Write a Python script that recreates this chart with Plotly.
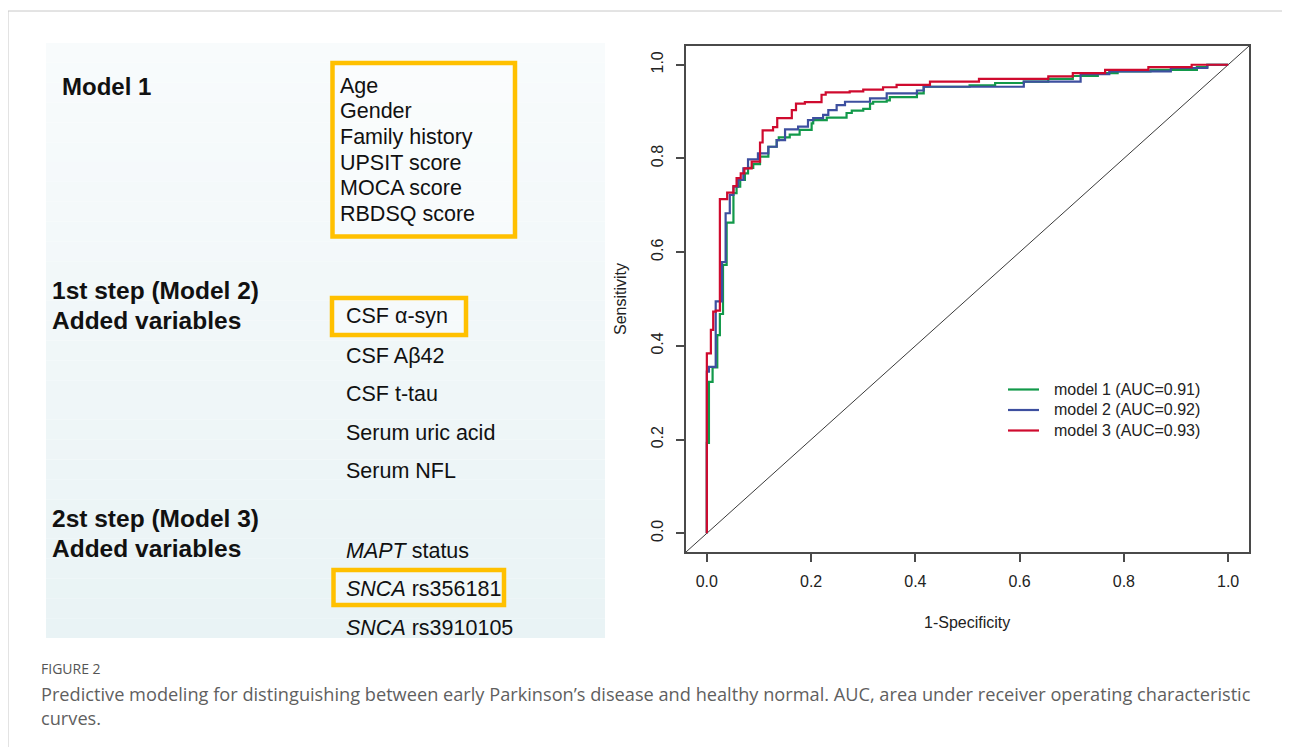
import plotly.graph_objects as go

# page is shown with an 8px body margin, so the figure is drawn 8px smaller and offset
OFF = 8
W, H = 1290 - OFF, 747 - OFF

# ---------------- data ----------------
model_names = ["model 1 (AUC=0.91)", "model 2 (AUC=0.92)", "model 3 (AUC=0.93)"]
model_colors = ["#12994a", "#3d4f9f", "#cf0a2e"]

# step points: at fpr x the curve jumps up to sensitivity y
m1_fpr = [0, 0, 0.004, 0.011, 0.020, 0.025, 0.031, 0.038, 0.051, 0.057, 0.064, 0.073, 0.079,
          0.089, 0.102, 0.118, 0.134, 0.138, 0.159, 0.178, 0.201, 0.204, 0.230, 0.268, 0.278,
          0.300, 0.313, 0.319, 0.345, 0.351, 0.403, 0.416, 0.504, 0.553, 0.608, 0.655, 0.702,
          0.750, 0.788, 0.851, 0.940, 0.960, 1.0]
m1_tpr = [0, 0.193, 0.323, 0.354, 0.423, 0.468, 0.573, 0.663, 0.726, 0.740, 0.754, 0.768, 0.780,
          0.788, 0.804, 0.825, 0.839, 0.845, 0.851, 0.861, 0.875, 0.882, 0.887, 0.897, 0.902,
          0.906, 0.917, 0.921, 0.924, 0.931, 0.939, 0.953, 0.956, 0.961, 0.964, 0.970, 0.976,
          0.982, 0.986, 0.989, 0.995, 1.0, 1.0]

m2_fpr = [0, 0, 0.004, 0.017, 0.029, 0.036, 0.044, 0.051, 0.060, 0.070, 0.079, 0.098, 0.118,
          0.134, 0.150, 0.175, 0.194, 0.204, 0.223, 0.233, 0.249, 0.265, 0.313, 0.345, 0.403,
          0.416, 0.608, 0.717, 0.772, 0.890, 0.960, 1.0]
m2_tpr = [0, 0.345, 0.355, 0.495, 0.579, 0.683, 0.722, 0.740, 0.754, 0.779, 0.798, 0.811, 0.825,
          0.839, 0.862, 0.868, 0.882, 0.886, 0.893, 0.903, 0.914, 0.921, 0.928, 0.939, 0.945,
          0.953, 0.964, 0.980, 0.986, 0.993, 1.0, 1.0]

m3_fpr = [0, 0, 0.0077, 0.0122, 0.0173, 0.025, 0.039, 0.051, 0.057, 0.065, 0.072, 0.086, 0.102,
          0.107, 0.127, 0.135, 0.163, 0.171, 0.188, 0.220, 0.228, 0.274, 0.300, 0.338, 0.364,
          0.428, 0.522, 0.655, 0.702, 0.764, 0.847, 0.930, 1.0]
m3_tpr = [0, 0.384, 0.434, 0.473, 0.475, 0.713, 0.727, 0.741, 0.758, 0.768, 0.779, 0.793, 0.834,
          0.860, 0.867, 0.886, 0.903, 0.917, 0.920, 0.936, 0.941, 0.943, 0.947, 0.952, 0.957,
          0.964, 0.970, 0.975, 0.982, 0.989, 0.995, 1.0, 1.0]

axis_ticks = [0.0, 0.2, 0.4, 0.6, 0.8, 1.0]
axis_ticktext = ["0.0", "0.2", "0.4", "0.6", "0.8", "1.0"]
axis_lim = [-0.04, 1.04]

model1_vars = ["Age", "Gender", "Family history", "UPSIT score", "MOCA score", "RBDSQ score"]
model2_vars = ["CSF α-syn", "CSF Aβ42", "CSF t-tau", "Serum uric acid", "Serum NFL"]
model3_vars = ["<i>MAPT</i> status", "<i>SNCA</i> rs356181", "<i>SNCA</i> rs3910105"]

caption_label = "FIGURE 2"
caption_lines = [
    "Predictive modeling for distinguishing between early Parkinson\u2019s disease and healthy normal. AUC, area under receiver operating characteristic",
    "curves.",
]

# ---------------- helpers (page pixel -> paper) ----------------
def px(x):
    return (x - OFF) / W

def py(y):
    return 1 - (y - OFF) / H

ARIAL = "Liberation Sans, Arial, sans-serif"
PAD = 2  # annotation inner padding

fig = go.Figure()

# ROC curves
for fpr, tpr, name, col in zip([m1_fpr, m2_fpr, m3_fpr], [m1_tpr, m2_tpr, m3_tpr],
                               model_names, model_colors):
    fig.add_trace(go.Scatter(x=fpr, y=tpr, mode="lines", name=name, showlegend=False,
                             line=dict(color=col, width=2.2, shape="hv")))

shapes = []
annotations = []

# diagonal reference line
shapes.append(dict(type="line", xref="x", yref="y", x0=axis_lim[0], y0=axis_lim[0],
                   x1=axis_lim[1], y1=axis_lim[1], line=dict(color="#3a3a3a", width=1), layer="below"))

# figure frame lines
shapes.append(dict(type="line", xref="paper", yref="paper", x0=px(8), y0=py(11), x1=1, y1=py(11),
                   line=dict(color="#c8c8c8", width=1)))
shapes.append(dict(type="line", xref="paper", yref="paper", x0=px(8), y0=py(11), x1=px(8), y1=0,
                   line=dict(color="#c8c8c8", width=1)))

# left panel gradient background
top, bot = 43, 638
n = 30
c0 = (248, 251, 252)
c1 = (233, 243, 245)
for i in range(n):
    t = i / (n - 1)
    c = tuple(round(a + (b - a) * t) for a, b in zip(c0, c1))
    y0 = top + (bot - top) * i / n
    y1 = top + (bot - top) * (i + 1) / n
    shapes.append(dict(type="rect", xref="paper", yref="paper", x0=px(46), x1=px(605),
                       y0=py(y1), y1=py(y0), fillcolor="rgb(%d,%d,%d)" % c,
                       line=dict(width=0), layer="below"))

# orange boxes
ORANGE = "#FFC000"
for (x0, y0, x1, y1) in [(332.5, 63, 515, 236.5), (332, 298, 466, 335), (333.5, 570, 504, 605)]:
    shapes.append(dict(type="rect", xref="paper", yref="paper", x0=px(x0), x1=px(x1),
                       y0=py(y1), y1=py(y0), line=dict(color=ORANGE, width=4.5),
                       fillcolor="rgba(255,255,255,0.35)", layer="below"))

def txt(x, y, s, size, bold=False, color="#111111", font=ARIAL, anchor="left"):
    xx = x - PAD if anchor == "left" else x
    annotations.append(dict(xref="paper", yref="paper", x=px(xx), y=py(y),
                            text=("<b>%s</b>" % s) if bold else s,
                            showarrow=False, xanchor=anchor, yanchor="middle",
                            font=dict(family=font, size=size, color=color)))

# headings
txt(62, 87, "Model 1", 24, bold=True)
txt(52, 291, "1st step (Model 2)", 24.5, bold=True)
txt(52, 320, "Added variables", 24.5, bold=True)
txt(52, 519, "2st step (Model 3)", 24.5, bold=True)
txt(52, 548, "Added variables", 24.5, bold=True)

# variable lists
for s, y in zip(model1_vars, [86, 111, 137, 163, 188, 214]):
    txt(340, y, s, 21.5)
for s, y in zip(model2_vars, [316, 356, 394, 432.5, 471]):
    txt(346, y, s, 21.5)
for s, y in zip(model3_vars, [550.5, 589, 627.5]):
    txt(346, y, s, 21.5)

# legend (drawn manually to match the R legend spacing)
for name, col, y in zip(model_names, model_colors, [389.5, 410, 430.5]):
    shapes.append(dict(type="line", xref="paper", yref="paper", x0=px(1008), x1=px(1039),
                       y0=py(y), y1=py(y), line=dict(color=col, width=2.2)))
    txt(1054, y, name, 16, color="#222222")

# axis titles
txt(967, 622, "1-Specificity", 16, color="#222222", anchor="center")
annotations.append(dict(xref="paper", yref="paper", x=px(620), y=py(299), text="Sensitivity",
                        showarrow=False, xanchor="center", yanchor="middle", textangle=-90,
                        font=dict(family=ARIAL, size=16, color="#222222")))

# caption
CAP = "Open Sans, Noto Sans, sans-serif"
txt(41, 668, caption_label, 14, color="#555555", font=CAP)
for s, y in zip(caption_lines, [694, 718]):
    txt(41, y, s, 18.2, color="#5f5f5f", font=CAP)

axis_common = dict(range=axis_lim, showgrid=False, zeroline=False, showline=True, mirror=True,
                   linecolor="#4a4a4a", linewidth=1.5, ticks="outside", ticklen=8, tickwidth=1.5,
                   tickcolor="#4a4a4a", tickvals=axis_ticks, ticktext=axis_ticktext,
                   tickfont=dict(family=ARIAL, size=16, color="#222222"))

fig.update_layout(
    width=W, height=H,
    margin=dict(l=0, r=0, t=0, b=0),
    paper_bgcolor="white", plot_bgcolor="white",
    xaxis=dict(domain=[px(686), px(1249)], ticklabelstandoff=6, **axis_common),
    yaxis=dict(domain=[py(552), py(46)], tickangle=-90, ticklabelstandoff=7, **axis_common),
    shapes=shapes,
    annotations=annotations,
    showlegend=False,
)

fig.write_html("out.html")
